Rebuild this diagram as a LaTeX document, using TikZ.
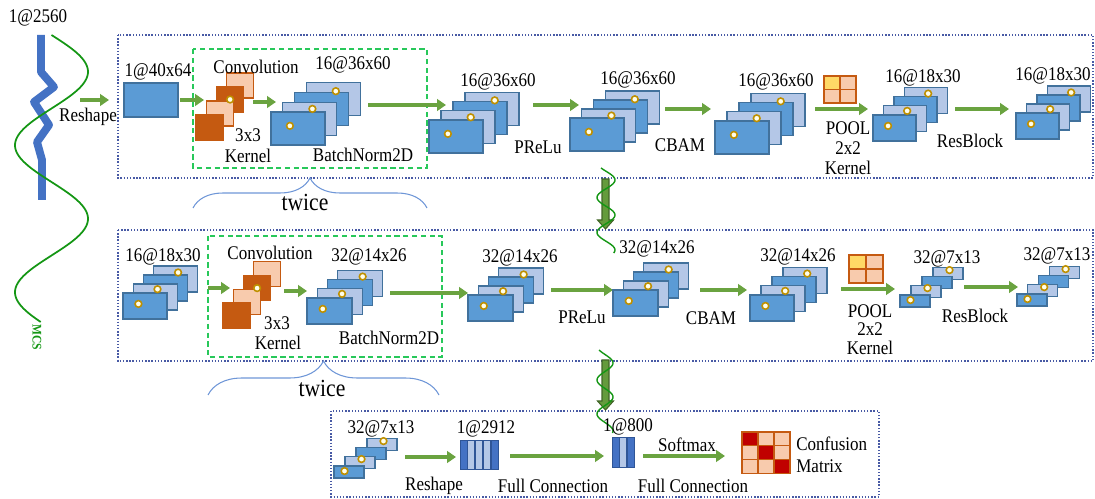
\documentclass[tikz,border=0pt]{standalone}
\usepackage{fontspec}
\setmainfont{Liberation Serif}[FakeStretch=0.88]
\usepackage{tikz}
\usetikzlibrary{positioning}
\usetikzlibrary{arrows.meta}
\usetikzlibrary{decorations.pathreplacing}
\usepackage{xcolor}

\definecolor{fmdark}{RGB}{91,155,213}
\definecolor{fmlight}{RGB}{180,199,231}
\definecolor{fmedge}{RGB}{65,113,156}
\definecolor{krdark}{RGB}{197,90,17}
\definecolor{krlight}{RGB}{248,203,173}
\definecolor{dotring}{RGB}{191,144,0}
\definecolor{arrgreen}{RGB}{106,163,64}
\definecolor{downgreen}{RGB}{100,155,60}
\definecolor{boxblue}{RGB}{72,90,165}
\definecolor{dashgreen}{RGB}{40,200,90}
\definecolor{sigblue}{RGB}{68,114,196}
\definecolor{wavegreen}{RGB}{20,150,20}
\definecolor{bracecol}{RGB}{110,150,215}
\definecolor{cmred}{RGB}{192,0,0}
\definecolor{poolyel}{RGB}{255,217,102}
\definecolor{bardark}{RGB}{68,114,196}
\definecolor{baredge}{RGB}{47,85,151}

% feature map stack: name, front corner (x,y), size w h, layer shift dx dy
\newcommand{\fmstack}[7]{%
  \foreach \i/\fc in {3/fmlight,2/fmdark,1/fmlight,0/fmdark}
    \draw[fmap, fill=\fc] ({#2+\i*#6},{#3-\i*#7}) rectangle ++(#4,#5);
  \draw[fmdot] ({#2+3*#6+0.55*#4},{#3-3*#7+0.25*#5}) circle[radius=1.9pt];
  \draw[fmdot] ({#2+#6+0.55*#4},{#3-#7+0.2*#5}) circle[radius=1.9pt];
  \draw[fmdot] ({#2+0.35*#4},{#3+0.42*#5}) circle[radius=1.9pt];
  \coordinate (#1) at ({#2+0.5*#4},{#3+0.5*#5});
}
% kernel stack: front corner (x,y), size w h, layer shift dx dy
\newcommand{\krstack}[6]{%
  \foreach \i/\fc in {3/krlight,2/krdark,1/krlight,0/krdark}
    \draw[kern, fill=\fc] ({#1+\i*#5},{#2-\i*#6}) rectangle ++(#3,#4);
  \draw[fmdot] ({#1+2*#5+0.5*#3},{#2-2*#6+0.5*#4}) circle[radius=1.9pt];
}
% 2x2 pooling window: corner (x,y), cell w h
\newcommand{\poolgrid}[4]{%
  \foreach \r in {0,1}
    \foreach \s in {0,1}
      \draw[kern, fill=krlight] ({#1+\r*#3},{#2+\s*#4}) rectangle ++(#3,#4);
  \draw[kern, fill=poolyel] (#1,#2) rectangle ++(#3,#4);
}

\begin{document}
\begin{tikzpicture}[x=0.02cm, y=-0.02cm,
  fmap/.style={draw=fmedge, line width=0.6pt},
  fmdot/.style={draw=dotring, fill=yellow!8, line width=0.9pt},
  kern/.style={draw=krdark, line width=0.6pt},
  flow/.style={draw=arrgreen, line width=1.9pt, -{Triangle[length=5pt,width=6.5pt]}},
  lbl/.style={font=\fontsize{11}{12.5}\selectfont, inner sep=0pt},
  bigl/.style={font=\fontsize{14}{15}\selectfont, inner sep=0pt},
  stage/.style={draw=boxblue, line width=0.8pt, densely dotted},
  twicebox/.style={draw=dashgreen, line width=0.9pt, dash pattern=on 3pt off 2pt},
  twicebrace/.style={draw=bracecol, line width=0.6pt, decorate,
    decoration={brace, amplitude=#1}},
  downflow/.style={fill=downgreen, draw=downgreen!65!black, line width=0.6pt},
  wave/.style={draw=wavegreen, line width=0.8pt},
  bar/.style={draw=baredge, line width=0.5pt}
]
\useasboundingbox (0,0) rectangle (1095,499);

% input signal
\draw[sigblue, line width=4.5pt, line join=round]
  (41,35) -- (41,72) -- (54,87) -- (34,102) -- (49,125) -- (37,142) -- (42,160) -- (42,200);
\draw[wave, line width=1pt] plot[domain=35:322, samples=150, variable=\t]
  ({51.5+36.5*sin((\t-35)/147*360)}, \t);
\node[lbl] (sig) at (38,18) {1@2560};
\node[rotate=-90, text=wavegreen, inner sep=0pt, font=\fontsize{7.5}{7.5}\selectfont\bfseries] (mcs) at (37,337) {MCS};

\draw[flow] (80,100) coordinate (rs0a) -- (109,100) coordinate (rs0b);
\node[lbl] (rs0) at (88,117) {Reshape};

% stage boxes
\draw[stage] (118,35) rectangle (1093,178);
\draw[stage] (118,230) rectangle (1093,361);
\draw[stage] (331,411) rectangle (879,497);

% conv + batchnorm, done twice
\draw[twicebox] (193,49) rectangle (427,168);
\draw[twicebox] (208,236) rectangle (442,357);
\draw[twicebrace=0.6cm] (193,208) -- (427,208);
\node[bigl] (tw1) at (305,202) {twice};
\draw[twicebrace=0.68cm] (208,395) -- (439,395);
\node[bigl] (tw2) at (322,388) {twice};

%%% first row
\draw[fmap, fill=fmdark] (124,83) rectangle (178,117);
\node[lbl] (in1) at (158,72) {1@40x64};
\draw[flow] (180,100) coordinate (f1a) -- (204,100) coordinate (f1b);

\krstack{196}{115}{27}{25}{10.3}{14}
\node[lbl] (cv1) at (256,67) {Convolution};
\node[lbl] (k1a) at (248,135) {3x3};
\node[lbl] (k1b) at (248,156) {Kernel};
\draw[flow] (253,102) coordinate (f2a) -- (276,102) coordinate (f2b);

\fmstack{s1}{271}{112}{54}{33}{11.7}{9.7}
\node[lbl] (l1) at (353,65) {16@36x60};
\node[lbl] (bn1) at (363,155) {BatchNorm2D};
\draw[flow] (368,105) coordinate (f3a) -- (446,105) coordinate (f3b);

\fmstack{s2}{429}{120}{54}{33}{12}{9.3}
\node[lbl] (l2) at (498,82) {16@36x60};
\node[lbl] (pr1) at (538,147) {PReLu};
\draw[flow] (533,105) coordinate (f4a) -- (579,105) coordinate (f4b);

\fmstack{s3}{570}{118}{54}{33}{11.7}{9}
\node[lbl] (l3) at (638,80) {16@36x60};
\node[lbl] (cb1) at (680,145) {CBAM};
\draw[flow] (665,109) coordinate (f5a) -- (711,109) coordinate (f5b);

\fmstack{s4}{715}{121}{54}{33}{12}{9.3}
\node[lbl] (l4) at (776,82) {16@36x60};
\poolgrid{824}{76}{16}{13.5}
\draw[flow] (815,109) coordinate (f6a) -- (868,109) coordinate (f6b);
\node[lbl] (po1a) at (848,128) {POOL};
\node[lbl] (po1b) at (848,148) {2x2};
\node[lbl] (po1c) at (848,168) {Kernel};

\fmstack{s5}{873}{115}{43}{26}{10.5}{9.3}
\node[lbl] (l5) at (923,78) {16@18x30};
\node[lbl] (rb1) at (970,141) {ResBlock};
\draw[flow] (955,109) coordinate (f7a) -- (1009,109) coordinate (f7b);

\fmstack{s6}{1016}{113}{43}{26}{10.5}{9}
\node[lbl] (l6) at (1053,76) {16@18x30};

% down to second row
\coordinate (dn1) at (605.5,179);
\filldraw[downflow] (dn1) ++(-3.5,0) -- ++(7,0) -- ++(0,41) -- ++(4.5,0)
  -- ++(-8,9) -- ++(-8,-9) -- ++(4.5,0) -- cycle;
\draw[wave] plot[domain=168:253, samples=80, variable=\t]
  ({606+9*sin((\t-180)/35*360+90)}, \t);

%%% second row
\fmstack{t1}{123}{293}{44}{26}{10.3}{9}
\node[lbl] (m1) at (163,257) {16@18x30};
\draw[flow] (208,288) coordinate (g1a) -- (230,288) coordinate (g1b);

\krstack{223}{303}{27}{25}{10.3}{13.7}
\node[lbl] (cv2) at (270,253) {Convolution};
\node[lbl] (k2a) at (277,323) {3x3};
\node[lbl] (k2b) at (278,343) {Kernel};
\draw[flow] (284,291) coordinate (g2a) -- (307,291) coordinate (g2b);

\fmstack{t2}{307}{298}{45}{26}{10.3}{9.3}
\node[lbl] (m2) at (369,257) {32@14x26};
\node[lbl] (bn2) at (389,338) {BatchNorm2D};
\draw[flow] (390,293) coordinate (g3a) -- (468,293) coordinate (g3b);

\fmstack{t3}{468}{295}{45}{26}{10.3}{9}
\node[lbl] (m3) at (520,258) {32@14x26};
\node[lbl] (pr2) at (582,317) {PReLu};
\draw[flow] (551,290) coordinate (g4a) -- (613,290) coordinate (g4b);

\fmstack{t4}{613}{290}{45}{26}{10.3}{9}
\node[lbl] (m4) at (657,249) {32@14x26};
\node[lbl] (cb2) at (711,318) {CBAM};
\draw[flow] (700,290) coordinate (g5a) -- (747,290) coordinate (g5b);

\fmstack{t5}{750}{295}{44}{26}{11}{9.3}
\node[lbl] (m5) at (798,257) {32@14x26};
\poolgrid{849}{255}{17}{14}
\draw[flow] (841,289) coordinate (g6a) -- (895,289) coordinate (g6b);
\node[lbl] (po2a) at (870,311) {POOL};
\node[lbl] (po2b) at (870,329) {2x2};
\node[lbl] (po2c) at (870,348) {Kernel};

\fmstack{t6}{900}{295}{30}{12}{11}{9.3}
\node[lbl] (m6) at (947,259) {32@7x13};
\node[lbl] (rb2) at (975,316) {ResBlock};
\draw[flow] (964,287) coordinate (g7a) -- (1018,287) coordinate (g7b);

\fmstack{t7}{1017}{294}{30}{12}{10.7}{9.3}
\node[lbl] (m7) at (1057,256) {32@7x13};

% down to classifier
\coordinate (dn2) at (605.5,360);
\filldraw[downflow] (dn2) ++(-3.5,0) -- ++(7,0) -- ++(0,41) -- ++(4.5,0)
  -- ++(-8,9) -- ++(-8,-9) -- ++(4.5,0) -- cycle;
\draw[wave] plot[domain=350:433, samples=80, variable=\t]
  ({605+8*sin((\t-363)/34*360+90)}, \t);

%%% classifier
\fmstack{u1}{334}{466}{30}{12}{11}{9.3}
\node[lbl] (n1) at (381,429) {32@7x13};
\draw[flow] (405,457) coordinate (h1a) -- (456,457) coordinate (h1b);
\node[lbl] (rs1) at (434,486) {Reshape};

\foreach \i/\fc in {0/bardark,1/fmlight,2/fmlight,3/fmlight,4/bardark}
  \draw[bar, fill=\fc] ({460+\i*7.8},440) rectangle ++(7,29);
\node[lbl] (n2) at (486,429) {1@2912};
\draw[flow] (510,456) coordinate (h2a) -- (604,456) coordinate (h2b);
\node[lbl] (fc1) at (553,486) {Full Connection};

\foreach \i/\fc in {0/bardark,1/fmlight,2/bardark}
  \draw[bar, fill=\fc] ({612+\i*7.8},437) rectangle ++(7,30);
\node[lbl] (n3) at (628,427) {1@800};
\draw[flow] (643,456) coordinate (h3a) -- (725,456) coordinate (h3b);
\node[lbl] (sm) at (687,445) {Softmax};
\node[lbl] (fc2) at (693,486) {Full Connection};

% confusion matrix
\foreach \r in {0,1,2}
  \foreach \s in {0,1,2}
    \draw[kern, fill=krlight] ({742+\r*16},{432+\s*13.7}) rectangle ++(16,13.7);
\foreach \r in {0,1,2}
  \draw[kern, fill=cmred] ({742+\r*16},{432+\r*13.7}) rectangle ++(16,13.7);
\node[lbl, anchor=west, align=left] (cm) at (796,455) {Confusion\\Matrix};

\end{tikzpicture}
\end{document}
